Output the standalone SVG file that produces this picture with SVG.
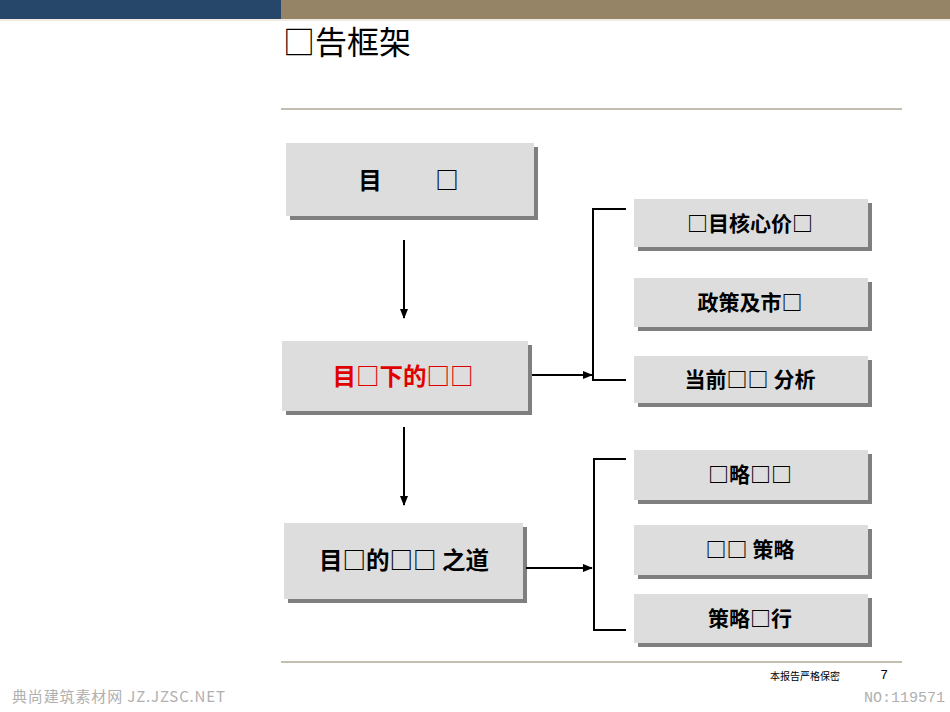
<svg xmlns="http://www.w3.org/2000/svg" width="950" height="712" viewBox="0 0 950 712">
<style>
.sh{fill:#7f7f7f}
.bx{fill:#dddddd}
.t{font-family:"Noto Sans CJK SC","Liberation Sans",sans-serif;font-weight:bold;text-anchor:middle;fill:#000}
.m{font-size:23.5px}
.s{font-size:21px}
.ln{stroke:#000;stroke-width:2;fill:none}
</style>
<defs>
<marker id="ah2" viewBox="0 0 10 10" refX="9" refY="5" markerWidth="10" markerHeight="10" orient="auto" markerUnits="userSpaceOnUse">
<path d="M0,1 L10,5 L0,9 z" fill="#000"/>
</marker>
</defs>
<rect width="950" height="712" fill="#fff"/>
<rect x="0" y="0" width="281" height="19" fill="#26466a"/>
<rect x="281" y="0" width="669" height="19" fill="#958466"/>
<rect x="0" y="19" width="950" height="2" fill="#f0ebe0"/>
<text x="283" y="54" font-family="'Noto Sans CJK SC','Liberation Sans',sans-serif" font-size="32" fill="#000">□告框架</text>
<line x1="281" y1="109" x2="902" y2="109" stroke="#b0a898" stroke-width="1.5"/>
<line x1="281" y1="662" x2="902" y2="662" stroke="#b0a898" stroke-width="1.5"/>

<g id="n1"><rect class="sh" x="290" y="147" width="248" height="73"/><rect class="bx" x="286" y="143" width="248" height="73"/><text class="t m" x="405" y="189"><tspan x="370">目</tspan><tspan x="447">□</tspan></text></g>
<g id="n2"><rect class="sh" x="286" y="345" width="246" height="70"/><rect class="bx" x="282" y="341" width="246" height="70"/><text class="t m" x="403" y="385" style="fill:#e00000">目□下的□□</text></g>
<g id="n3"><rect class="sh" x="288" y="527" width="239" height="76"/><rect class="bx" x="284" y="523" width="239" height="76"/><text class="t m" x="404" y="569">目□的□□ 之道</text></g>

<g id="r1"><rect class="sh" x="638" y="203" width="234" height="48"/><rect class="bx" x="634" y="199" width="234" height="48"/><text class="t s" x="750" y="231">□目核心价□</text></g>
<g id="r2"><rect class="sh" x="638" y="282" width="234" height="49"/><rect class="bx" x="634" y="278" width="234" height="49"/><text class="t s" x="750" y="310">政策及市□</text></g>
<g id="r3"><rect class="sh" x="638" y="360" width="234" height="47"/><rect class="bx" x="634" y="356" width="234" height="47"/><text class="t s" x="750" y="387">当前□□ 分析</text></g>
<g id="r4"><rect class="sh" x="638" y="454" width="234" height="50"/><rect class="bx" x="634" y="450" width="234" height="50"/><text class="t s" x="750" y="482">□略□□</text></g>
<g id="r5"><rect class="sh" x="638" y="529" width="234" height="50"/><rect class="bx" x="634" y="525" width="234" height="50"/><text class="t s" x="750" y="557">□□ 策略</text></g>
<g id="r6"><rect class="sh" x="638" y="598" width="234" height="49"/><rect class="bx" x="634" y="594" width="234" height="49"/><text class="t s" x="750" y="626">策略□行</text></g>

<g id="connectors">
<line class="ln" x1="404" y1="240" x2="404" y2="318" marker-end="url(#ah2)"/>
<line class="ln" x1="404" y1="427" x2="404" y2="505" marker-end="url(#ah2)"/>
<line class="ln" x1="532" y1="375" x2="592" y2="375" marker-end="url(#ah2)"/>
<line class="ln" x1="526" y1="568" x2="592" y2="568" marker-end="url(#ah2)"/>
<path class="ln" d="M626,209 H593 V380 H626"/>
<path class="ln" d="M626,459 H594 V630 H626"/>
</g>

<text x="805" y="680" font-family="'Noto Sans CJK SC','Liberation Sans',sans-serif" font-size="10" text-anchor="middle" fill="#000">本报告严格保密</text>
<text x="884" y="679" font-family="Liberation Sans,sans-serif" font-size="13" text-anchor="middle" fill="#000">7</text>
<text x="945" y="702" font-family="Liberation Mono,'Noto Sans CJK SC',monospace" font-size="15" text-anchor="end" fill="#b0b0b0">NO:119571</text>
<text x="12" y="702" font-family="'Noto Sans CJK SC',monospace" font-size="15" fill="#b0b0b0" textLength="213" lengthAdjust="spacing">典尚建筑素材网 JZ.JZSC.NET</text>
</svg>
